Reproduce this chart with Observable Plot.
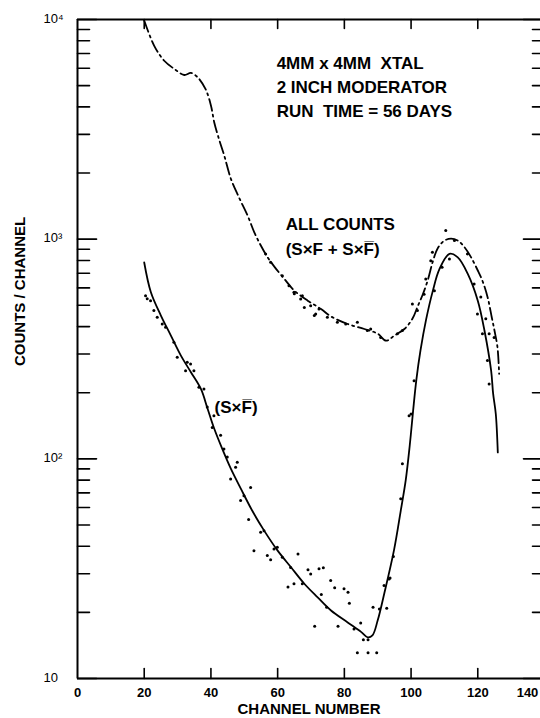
<!DOCTYPE html>
<html><head><meta charset="utf-8">
<script src="https://cdn.jsdelivr.net/npm/d3@7"></script>
<script src="https://cdn.jsdelivr.net/npm/@observablehq/plot@0.6"></script>
<style>html,body{margin:0;padding:0;background:#fff;} #chart{width:540px;height:718px;overflow:hidden;}</style>
</head><body><div id="chart"></div>
<script>
// ALL COUNTS (SxF + SxF̄) fitted curve (dash-dot)
const allCurveX = [20,23,26,29,32,34,36,38.4,40,41,42.4,44,46,48.4,51,53,55,57,59,62,65,69,73,76,81,86,90,92.5,95,98,100.4,102,103.5,105,106.5,108,110,112,114,116,118,120,121.5,123,124.2,125,125.9,126.4];
const allCurveY = [9900,7590,6490,5960,5590,5710,5460,4820,4060,3400,2860,2400,1880,1550,1280,1074,933,826,750,659,583,525,481,445,411,390,371,345,364,390,434,495,560,650,790,910,985,1005,985,920,826,720,640,540,440,384,322,244];
// (SxF̄) fitted curve (solid)
const sfCurveX = [20,22,25,28,31,34,37,39,41,43.4,46,49,52.4,56,60,64,68,72,76,81,85,87,88.4,90,92,94.9,96.9,98.4,99.6,100.6,101.6,102.8,104.5,106.5,108.5,111.5,114,117,120,122,124,124.6,125.4,126];
const sfCurveY = [783,573,449,364,295,248,208,169,137,111,90,73,58,47,38.2,32.1,27,23.4,20.4,18,16.3,15.4,15.7,18.4,24.5,38.5,58,80,115,165,230,310,430,580,730,857,826,695,525,384,252,198,160,107];
// measured points, all counts
const allDotX = [56.4,57.9,61.4,63.4,64.9,65,66.9,67.4,68,69.9,71,71.4,72.4,74.9,77.9,80.4,83.9,86.9,87.9,90.9,95.9,97.4,100.4,101.9,103.9,104.4,105.9,106.4,110.4,113,116.9,118.9,120.9,122.4,123.4,124.9];
const allDotY = [857,785,682,614,573,565,534,553,488,498,449,456,481,441,419,411,419,384,390,357,371,384,507,473,562,659,798,871,1094,985,857,625,545,434,371,357];
// measured points, SxF̄
const sfDotX = [20.4,20.9,21.9,22.9,23.9,25.4,26.4,28.9,29.9,32.4,32.9,33.9,34.9,36.4,37.9,38.9,40.4,40.9,42.9,43.9,44.9,45.9,47.4,47.9,48.9,49.9,51.3,51.9,52.9,54.9,55.9,56.9,57.9,58.9,59.9,61.4,63.1,63.9,64.9,66.1,67.4,69.1,69.9,71.1,72.4,73.1,73.7,74.7,75.9,77.1,78.1,79.9,81.1,81.5,82.9,83.9,84.9,85.7,87.1,87.1,88.6,89.7,90.5,91.9,92.7,93.4,93.7,94.7,96.9,97.4,99.4,100,100.9,107,109.3,111.5,119.9,121.4,122.9,123.4];
const sfDotY = [553,535,525,473,441,411,397,339,290,252,275,270,252,212,208,172,139,157,128,111,102,81,91.6,96.5,64.6,68,53,74,38.2,46.3,47,36.3,34.7,38.9,39.6,35.6,26.1,32,27,36.9,27,31.3,29.9,17.3,31.6,24.1,31.9,21.1,27.9,25.9,17.3,25.6,24.7,22,16.8,13.1,17.9,15,15,13.1,21.1,13.1,20.7,26.5,20.9,28.4,28.7,35.9,65.8,95,157,160,227,583,745,813,456,371,280,219];
// axes
const xTicks = [0,20,40,60,80,100,120,140];
const yMajor = [10,100,1000,10000];
const yMajorLabels = ["10","10\u00b2","10\u00b3","10\u2074"];
const yMinor = [20,30,40,50,60,70,80,90,200,300,400,500,600,700,800,900,2000,3000,4000,5000,6000,7000,8000,9000];
// annotations
const noteLines = ["4MM x 4MM\u00a0\u00a0XTAL","2 INCH MODERATOR","RUN\u00a0\u00a0TIME = 56 DAYS"];
const noteX = [59.7,59.7,59.7];
const noteY = [6300,4890,3800];
const labelLines = ["ALL COUNTS","(S\u00d7F + S\u00d7F\u0305)","(S\u00d7F\u0305)"];
const labelX = [62.4,62.4,41.1];
const labelY = [1165,896,171];

const font = "Liberation Sans, Arial, Helvetica, sans-serif";
const tickShape = {draw(ctx, l) { ctx.moveTo(0, 0); ctx.lineTo(0, -l); }};
const allCurve = allCurveX.map((x, i) => ({x, y: allCurveY[i]}));
const sfCurve = sfCurveX.map((x, i) => ({x, y: sfCurveY[i]}));
const allDots = allDotX.map((x, i) => ({x, y: allDotY[i]}));
const sfDots = sfDotX.map((x, i) => ({x, y: sfDotY[i]}));
const notes = noteLines.map((t, i) => ({t, x: noteX[i], y: noteY[i]}));
const labels = labelLines.map((t, i) => ({t, x: labelX[i], y: labelY[i]}));
const yLabs = yMajor.map((v, i) => ({v, t: yMajorLabels[i]}));
const innerX = xTicks.filter(d => d > 0 && d < 140);
const tk = (data, o) => Plot.vector(data, {anchor: "start", shape: tickShape, stroke: "black", strokeWidth: 1.6, ...o});

const chart = Plot.plot({
  width: 540, height: 718,
  marginTop: 19, marginBottom: 40, marginLeft: 77, marginRight: 0,
  style: {fontFamily: font, background: "white", color: "black"},
  x: {domain: [0, 140], range: [77, 544], axis: null},
  y: {type: "log", domain: [10, 10000], range: [678, 19], axis: null},
  marks: [
    Plot.ruleX([0], {stroke: "black", strokeWidth: 2}),
    Plot.ruleY([10, 10000], {stroke: "black", strokeWidth: 2}),
    tk(yMajor, {x: () => 0, y: d => d, rotate: 90, length: 19}),
    tk(yMinor, {x: () => 0, y: d => d, rotate: 90, length: 12}),
    tk(yMajor, {x: () => 140, y: d => d, rotate: 270, length: 21}),
    tk(yMinor, {x: () => 140, y: d => d, rotate: 270, length: 12}),
    tk(innerX, {x: d => d, y: () => 10000, rotate: 180, length: 9}),
    tk(innerX, {x: d => d, y: () => 10, rotate: 0, length: 10}),
    Plot.text(xTicks.filter(d => d < 140), {x: d => d, y: () => 10, dy: 14, text: d => String(d), fontSize: 13, fontWeight: "bold"}),
    Plot.text(xTicks.filter(d => d === 140), {x: d => d, y: () => 10, dy: 14, dx: -17, text: d => String(d), fontSize: 13, fontWeight: "bold"}),
    Plot.text(yLabs, {x: () => 0, y: "v", dx: -34, dy: -1, textAnchor: "start", text: "t", fontSize: 13}),
    Plot.text(["CHANNEL NUMBER"], {frameAnchor: "bottom", dy: 31, lineAnchor: "middle", fontSize: 15, fontWeight: "bold"}),
    Plot.text(["COUNTS / CHANNEL"], {frameAnchor: "left", dx: -57, dy: 17, rotate: -90, fontSize: 15, fontWeight: "bold"}),
    Plot.line(allCurve, {x: "x", y: "y", curve: "catmull-rom", stroke: "black", strokeWidth: 1.8, strokeDasharray: "12,4,2,4"}),
    Plot.line(sfCurve, {x: "x", y: "y", curve: "catmull-rom", stroke: "black", strokeWidth: 1.8}),
    Plot.dot(allDots, {x: "x", y: "y", r: 1.5, fill: "black"}),
    Plot.dot(sfDots, {x: "x", y: "y", r: 1.5, fill: "black"}),
    Plot.text(notes, {x: "x", y: "y", text: "t", textAnchor: "start", fontSize: 17, fontWeight: "bold"}),
    Plot.text(labels, {x: "x", y: "y", text: "t", textAnchor: "start", fontSize: 17, fontWeight: "bold"})
  ]
});
document.getElementById("chart").appendChild(chart);
</script>
</body></html>
